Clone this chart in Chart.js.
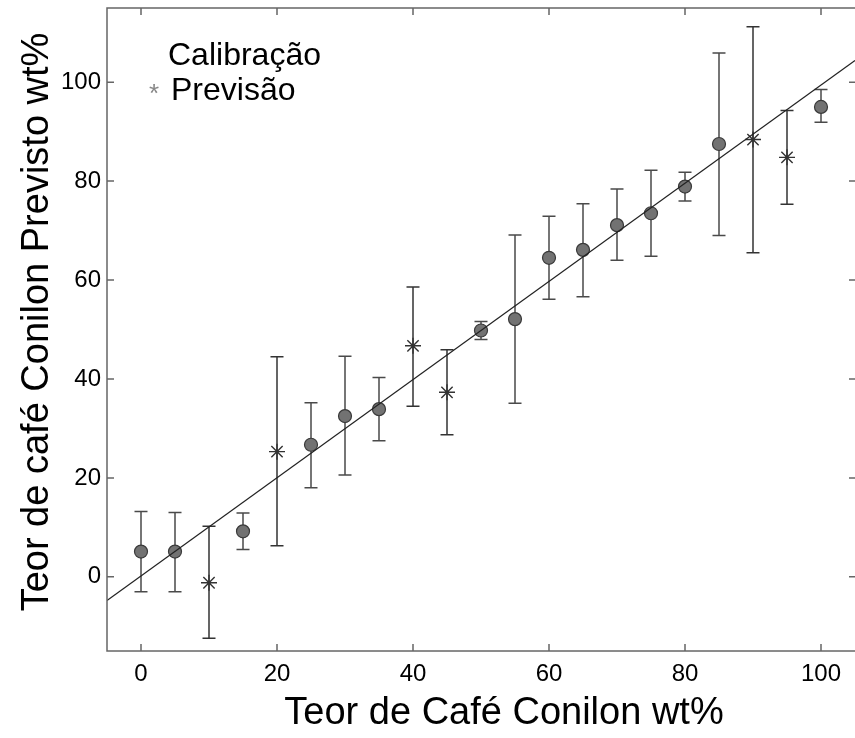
<!DOCTYPE html>
<html>
<head>
<meta charset="utf-8">
<script src="https://cdn.jsdelivr.net/npm/chart.js@4.4.1/dist/chart.umd.min.js"></script>
<style>
  body { margin: 0; background: #fff; }
  #wrap { width: 855px; height: 738px; }
</style>
</head>
<body>
<div id="wrap"><canvas id="chart" width="855" height="738"></canvas></div>
<script>
// calibration points (circles)
const calX = [0, 5, 15, 25, 30, 35, 50, 55, 60, 65, 70, 75, 80, 85, 100];
const calY = [5.1, 5.1, 9.2, 26.7, 32.5, 33.9, 49.8, 52.1, 64.5, 66.1, 71.1, 73.5, 78.9, 87.5, 95.0];
const calLow = [-3.0, -3.0, 5.5, 18.0, 20.6, 27.5, 48.0, 35.1, 56.1, 56.6, 64.0, 64.8, 76.0, 69.0, 91.9];
const calHigh = [13.2, 13.0, 12.9, 35.2, 44.6, 40.3, 51.6, 69.1, 72.9, 75.4, 78.4, 82.2, 81.8, 105.9, 98.5];

// prediction points (stars)
const predX = [10, 20, 40, 45, 90, 95];
const predY = [-1.2, 25.3, 46.7, 37.3, 88.4, 84.8];
const predLow = [-12.4, 6.3, 34.5, 28.7, 65.5, 75.3];
const predHigh = [10.2, 44.5, 58.6, 45.9, 111.2, 94.3];

// fitted line end points
const fitX = [-5, 105];
const fitY = [-4.8, 104.4];

const xTicks = [0, 20, 40, 60, 80, 100];
const yTicks = [0, 20, 40, 60, 80, 100];

const xTitle = 'Teor de Café Conilon wt%';
const yTitle = 'Teor de café Conilon Previsto wt%';
const legendLabels = ['Calibração', 'Previsão'];

const FONT = '"Liberation Sans", Arial, sans-serif';

const toPoints = (xs, ys) => xs.map((x, i) => ({ x: x, y: ys[i] }));

// error bars, box with inward ticks, tick labels, titles and legend text
const extras = {
  id: 'extras',
  beforeDatasetsDraw(chart) {
    const ctx = chart.ctx;
    const xs = chart.scales.x, ys = chart.scales.y;
    const bars = (xv, lo, hi, color) => {
      ctx.save();
      ctx.strokeStyle = color;
      ctx.lineWidth = 1.5;
      xv.forEach((x, i) => {
        const px = xs.getPixelForValue(x);
        const top = ys.getPixelForValue(hi[i]);
        const bot = ys.getPixelForValue(lo[i]);
        ctx.beginPath();
        ctx.moveTo(px, top); ctx.lineTo(px, bot);
        ctx.moveTo(px - 6.5, top); ctx.lineTo(px + 6.5, top);
        ctx.moveTo(px - 6.5, bot); ctx.lineTo(px + 6.5, bot);
        ctx.stroke();
      });
      ctx.restore();
    };
    bars(calX, calLow, calHigh, '#4a4a4a');
    bars(predX, predLow, predHigh, '#333333');
  },
  afterDraw(chart) {
    const ctx = chart.ctx;
    const a = chart.chartArea;
    const xs = chart.scales.x, ys = chart.scales.y;
    ctx.save();
    ctx.strokeStyle = '#666';
    ctx.lineWidth = 1.5;
    ctx.strokeRect(a.left, a.top, a.right - a.left + 2, a.bottom - a.top);
    ctx.beginPath();
    xTicks.forEach(v => {
      const px = xs.getPixelForValue(v);
      ctx.moveTo(px, a.bottom); ctx.lineTo(px, a.bottom - 7);
      ctx.moveTo(px, a.top); ctx.lineTo(px, a.top + 7);
    });
    yTicks.forEach(v => {
      const py = ys.getPixelForValue(v);
      ctx.moveTo(a.left, py); ctx.lineTo(a.left + 7, py);
      ctx.moveTo(a.right - 6, py); ctx.lineTo(a.right + 2, py);
    });
    ctx.stroke();

    // tick labels
    ctx.fillStyle = '#000';
    ctx.font = '24px ' + FONT;
    ctx.textAlign = 'center';
    ctx.textBaseline = 'middle';
    xTicks.forEach(v => ctx.fillText(String(v), xs.getPixelForValue(v), a.bottom + 23));
    ctx.textAlign = 'right';
    yTicks.forEach(v => ctx.fillText(String(v), a.left - 6, ys.getPixelForValue(v)));

    // axis titles
    ctx.textAlign = 'center';
    ctx.font = '38px ' + FONT;
    ctx.fillText(xTitle, 504, 714);
    ctx.save();
    ctx.translate(38, 322);
    ctx.rotate(-Math.PI / 2);
    ctx.fillText(yTitle, 0, 0);
    ctx.restore();

    // legend
    ctx.textAlign = 'left';
    ctx.font = '32px ' + FONT;
    ctx.fillText(legendLabels[0], 168, 56);
    ctx.fillText(legendLabels[1], 171, 91);
    ctx.fillStyle = '#888';
    ctx.font = '26px ' + FONT;
    ctx.fillText('*', 149, 95);
    ctx.restore();
  }
};

new Chart(document.getElementById('chart'), {
  type: 'scatter',
  data: {
    datasets: [
      {
        label: 'fit',
        type: 'line',
        data: toPoints(fitX, fitY),
        borderColor: '#222',
        borderWidth: 1.2,
        pointRadius: 0,
        fill: false,
        order: 0
      },
      {
        label: legendLabels[0],
        data: toPoints(calX, calY),
        pointStyle: 'circle',
        pointRadius: 6.5,
        backgroundColor: '#727272',
        borderColor: '#3a3a3a',
        borderWidth: 1.2,
        order: 1
      },
      {
        label: legendLabels[1],
        data: toPoints(predX, predY),
        pointStyle: 'star',
        pointRadius: 8,
        borderColor: '#333',
        borderWidth: 1.4,
        order: 1
      }
    ]
  },
  options: {
    responsive: false,
    animation: false,
    layout: { autoPadding: false, padding: { top: 8, right: 0, left: 0, bottom: 0 } },
    plugins: { legend: { display: false }, tooltip: { enabled: false } },
    scales: {
      x: {
        type: 'linear',
        min: -5,
        max: 105,
        afterBuildTicks: s => { s.ticks = xTicks.map(v => ({ value: v })); },
        afterFit: s => { s.height = 87; },
        grid: { display: false, drawTicks: false },
        border: { display: false },
        ticks: { display: false }
      },
      y: {
        type: 'linear',
        min: -15,
        max: 115,
        afterBuildTicks: s => { s.ticks = yTicks.map(v => ({ value: v })); },
        afterFit: s => { s.width = 107; },
        grid: { display: false, drawTicks: false },
        border: { display: false },
        ticks: { display: false }
      }
    }
  },
  plugins: [extras]
});
</script>
</body>
</html>
